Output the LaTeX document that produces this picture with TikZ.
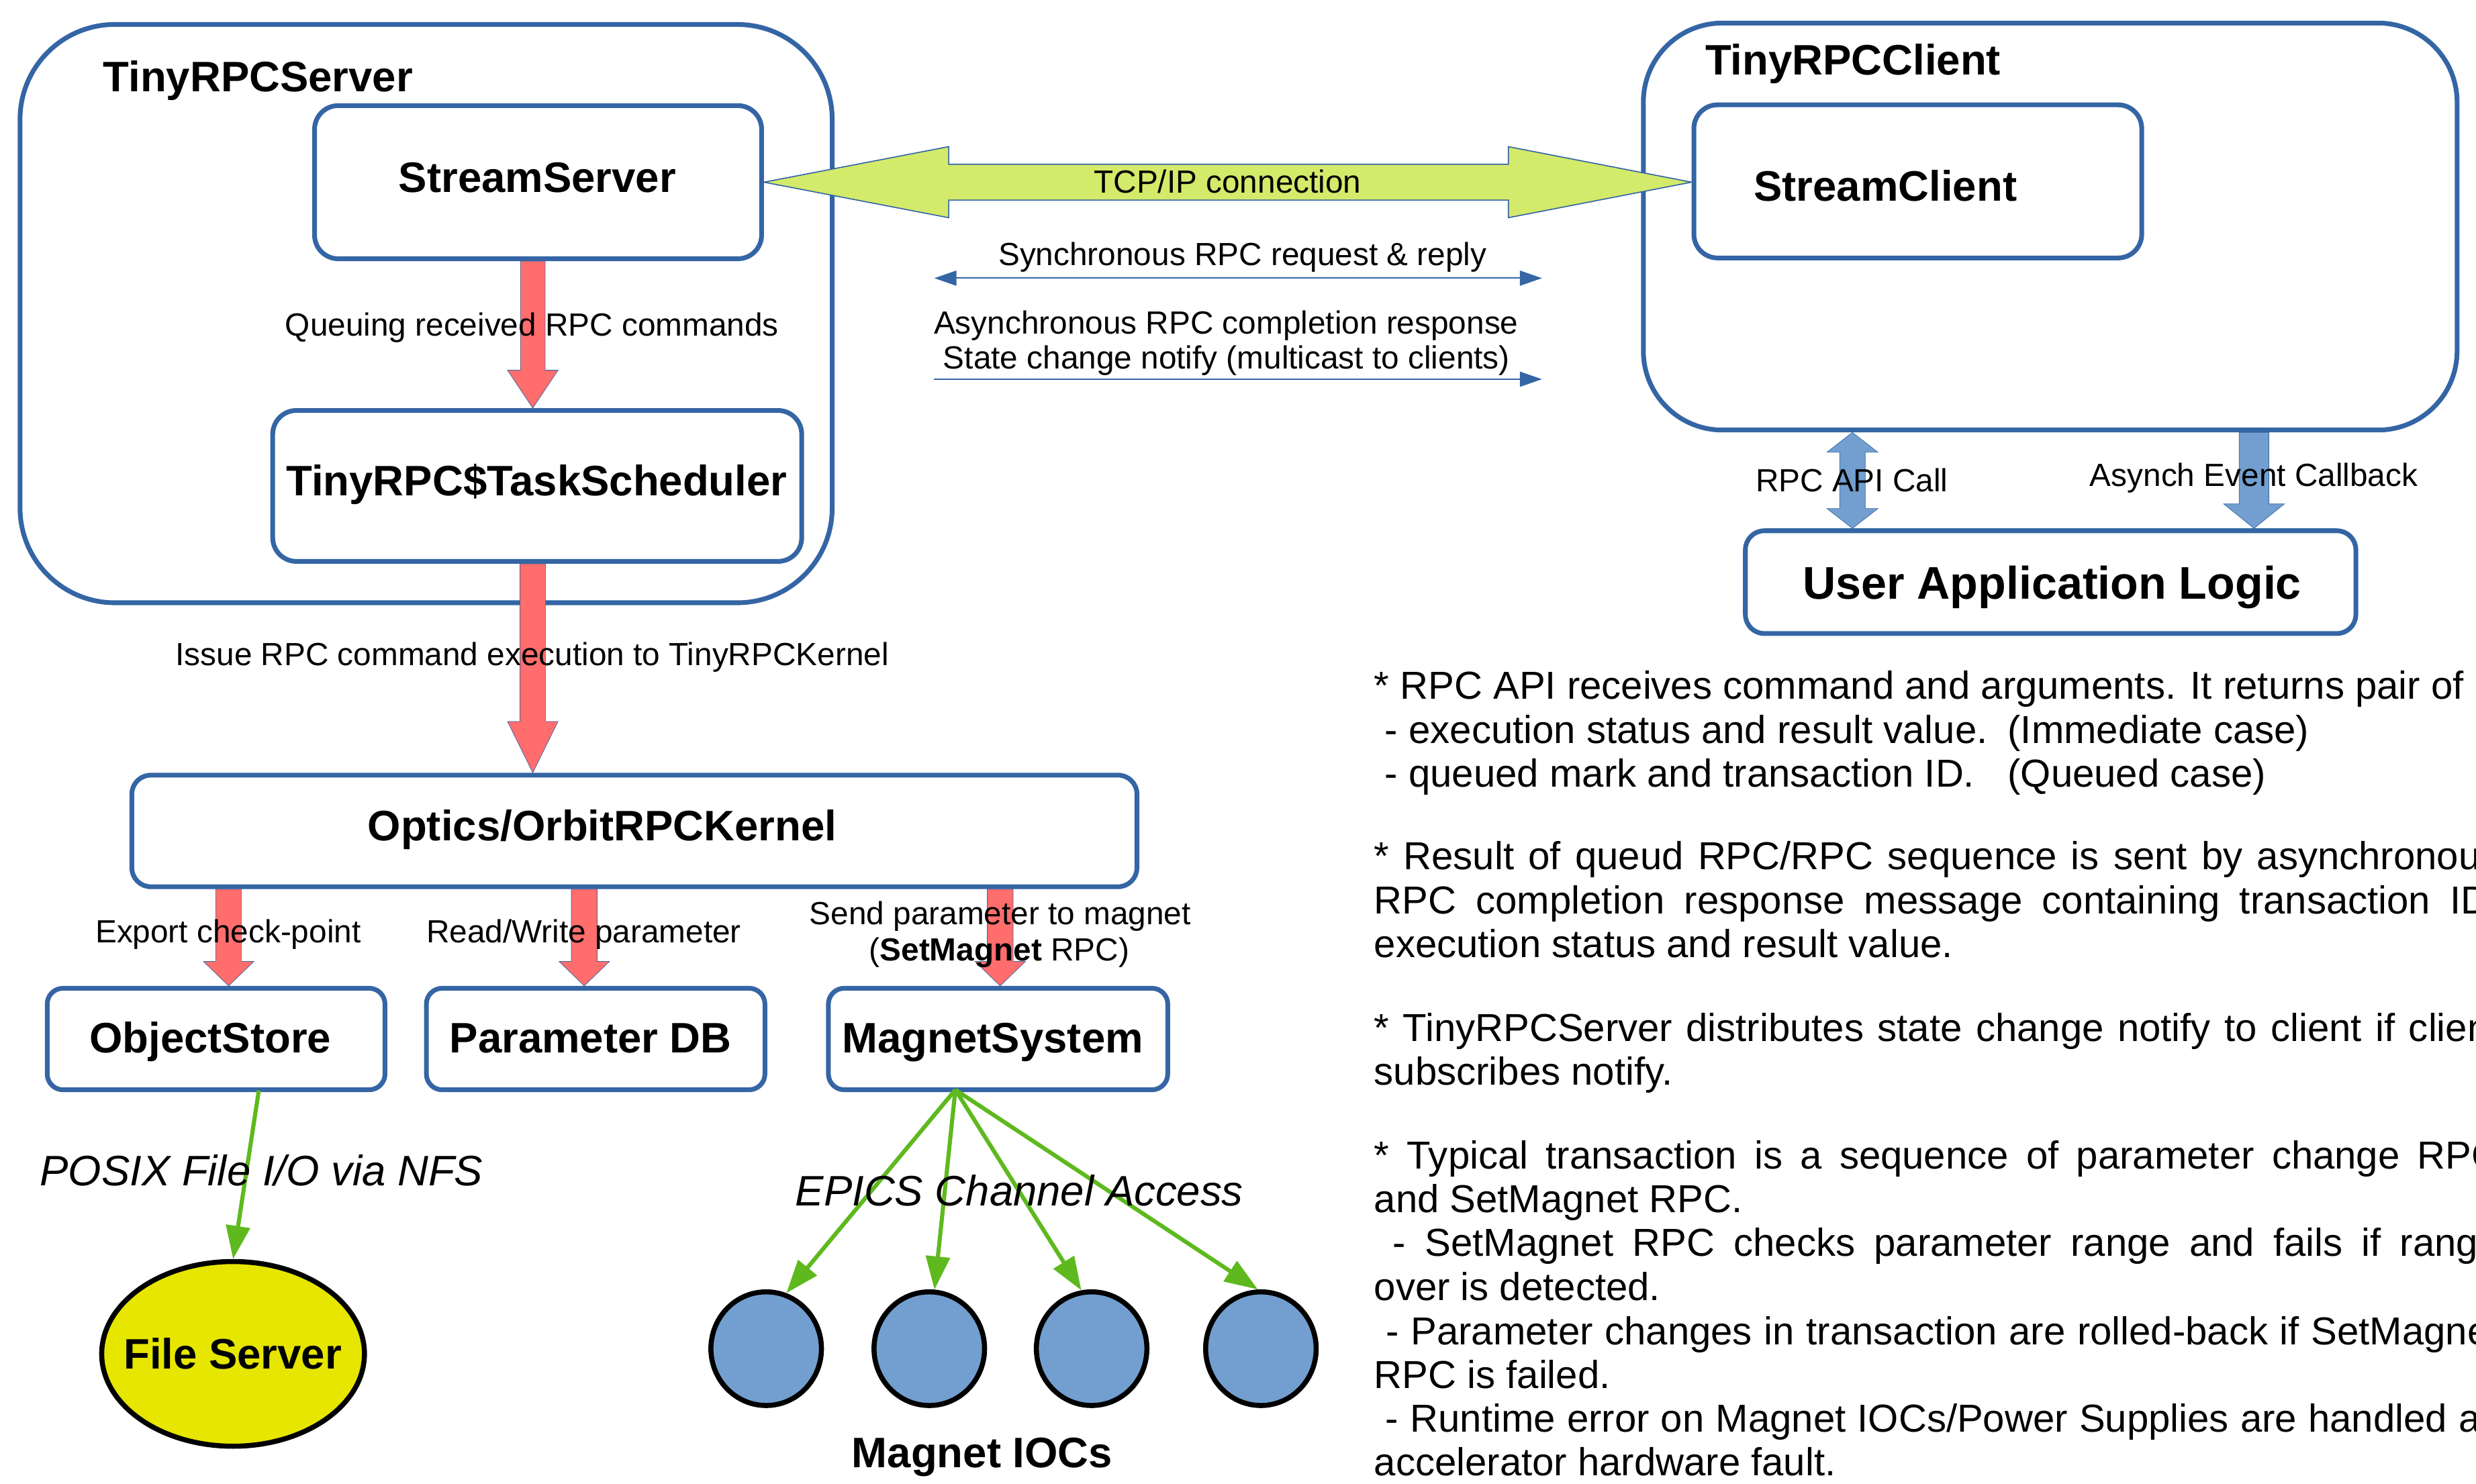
\documentclass[tikz,border=0pt]{standalone}
\usepackage{fontspec}
\setmainfont{Liberation Sans}
\usetikzlibrary{calc,arrows.meta,shapes.geometric}
\definecolor{boxblue}{HTML}{3465A4}
\definecolor{redarrow}{HTML}{FF6D6D}
\definecolor{limearrow}{HTML}{D4EA6B}
\definecolor{greenline}{HTML}{5EB91E}
\definecolor{iocblue}{HTML}{729FCF}
\definecolor{fsyellow}{HTML}{E6E600}
% single block arrow pointing down: style, from, to, shaft half, head half, head length
\newcommand{\vblock}[6]{%
\path[#1] let \p1=(#2), \p2=(#3) in
 (\x1-#4,\y1) -- (\x1+#4,\y1) -- (\x1+#4,\y2+#6) -- (\x1+#5,\y2+#6) -- (\x1,\y2)
 -- (\x1-#5,\y2+#6) -- (\x1-#4,\y2+#6) -- cycle;}
% double block arrow, vertical
\newcommand{\vdblock}[6]{%
\path[#1] let \p1=(#2), \p2=(#3) in
 (\x1,\y1) -- (\x1+#5,\y1-#6) -- (\x1+#4,\y1-#6) -- (\x1+#4,\y2+#6) -- (\x1+#5,\y2+#6)
 -- (\x1,\y2) -- (\x1-#5,\y2+#6) -- (\x1-#4,\y2+#6) -- (\x1-#4,\y1-#6) -- (\x1-#5,\y1-#6) -- cycle;}
\begin{document}
\begin{tikzpicture}[x=1pt,y=-1pt,
  box/.style={draw=boxblue, line width=3pt, rectangle, inner sep=0pt},
  lbl/.style={anchor=base, inner sep=0pt, font=\fontsize{20.3}{24}\selectfont},
  btxt/.style={anchor=base, inner sep=0pt, font=\fontsize{27}{32}\selectfont\bfseries},
  itxt/.style={anchor=base, inner sep=0pt, font=\fontsize{27}{32}\selectfont\itshape},
  note/.style={anchor=base west, inner sep=0pt, font=\fontsize{24.7}{28}\selectfont},
  redblk/.style={fill=redarrow, draw=boxblue, line width=0.3pt},
  blueblk/.style={fill=iocblue, draw=boxblue, line width=0.3pt},
  tcpblk/.style={fill=limearrow, draw=boxblue, line width=0.7pt},
  thinarr/.style={draw=boxblue, line width=0.8pt},
  gline/.style={draw=greenline, line width=2.6pt, -{Triangle[length=21pt,width=15pt]}},
  ioc/.style={ellipse, draw=black, line width=3.2pt, fill=iocblue, minimum width=70pt, minimum height=72pt, inner sep=0pt}
]
\fill[white] (0,0) rectangle (1568,940);
\useasboundingbox (0,0) rectangle (1568,940);

% ---------- boxes ----------
\node[box, rounded corners=60pt, minimum width=514.3pt, minimum height=366.3pt] (server) at (269.85,198.65) {};
\node[box, rounded corners=15pt, minimum width=283.1pt, minimum height=97pt] (ss) at (340.75,115.4) {};
\node[box, rounded corners=15pt, minimum width=335pt, minimum height=95.6pt] (ts) at (340.2,307.8) {};
\node[box, rounded corners=12pt, minimum width=636.5pt, minimum height=70.7pt] (kernel) at (401.75,526.35) {};
\node[box, rounded corners=10pt, minimum width=213.9pt, minimum height=64.3pt] (os) at (136.85,658.15) {};
\node[box, rounded corners=10pt, minimum width=214.4pt, minimum height=64.3pt] (pdb) at (377.2,658.15) {};
\node[box, rounded corners=10pt, minimum width=214.9pt, minimum height=64.3pt] (ms) at (632.05,658.15) {};
\node[box, rounded corners=50pt, minimum width=515.3pt, minimum height=257.8pt] (client) at (1298.35,143.5) {};
\node[box, rounded corners=15pt, minimum width=283.6pt, minimum height=97pt] (sc) at (1214.5,114.9) {};
\node[box, rounded corners=12pt, minimum width=386.6pt, minimum height=65.1pt] (ual) at (1298.6,368.75) {};

\node[ellipse, draw=black, line width=3.2pt, fill=fsyellow, minimum width=166.4pt, minimum height=117pt, inner sep=0pt] (fs) at (147.6,857.6) {};
\node[ioc] (ioc1) at (485.2,854.3) {};
\node[ioc] (ioc2) at (588.5,854.3) {};
\node[ioc] (ioc3) at (691.3,854.3) {};
\node[ioc] (ioc4) at (798.5,854.3) {};

% ---------- block arrows ----------
\coordinate (ax0) at (337.4,0);
\coordinate (ax1) at (144.8,0);
\coordinate (ax2) at (370,0);
\coordinate (ax3) at (633.4,0);
\vblock{redblk}{ss.south -| ax0}{ts.north -| ax0}{7.8pt}{16pt}{24pt}
\vblock{redblk}{ts.south -| ax0}{kernel.north -| ax0}{8.1pt}{16pt}{32.5pt}
\vblock{redblk}{kernel.south -| ax1}{os.north -| ax1}{8.2pt}{16pt}{15.5pt}
\vblock{redblk}{kernel.south -| ax2}{pdb.north -| ax2}{8.2pt}{16pt}{15.5pt}
\vblock{redblk}{kernel.south -| ax3}{ms.north -| ax3}{8.2pt}{16pt}{15.5pt}

\coordinate (bx1) at (1173.1,0);
\coordinate (bx2) at (1427.4,0);
\vdblock{blueblk}{client.south -| bx1}{ual.north -| bx1}{8.1pt}{16.2pt}{12.6pt}
\vblock{blueblk}{client.south -| bx2}{ual.north -| bx2}{9.4pt}{19.2pt}{15.5pt}

\path[tcpblk] let \p1=(ss.east), \p2=(sc.west) in
 (\x1,\y1) -- (\x1+117pt,\y1+22.5pt) -- (\x1+117pt,\y1+11.35pt) -- (\x2-116pt,\y1+11.35pt)
 -- (\x2-116pt,\y1+22.5pt) -- (\x2,\y1) -- (\x2-116pt,\y1-22.5pt) -- (\x2-116pt,\y1-11.35pt)
 -- (\x1+117pt,\y1-11.35pt) -- (\x1+117pt,\y1-22.5pt) -- cycle;

% ---------- thin arrows ----------
\coordinate (sync1) at (591.7,176.2);
\coordinate (sync2) at (976.5,176.2);
\coordinate (async1) at (591.4,240.2);
\coordinate (async2) at (976.5,240.2);
\draw[thinarr, {Triangle[length=14pt,width=9.5pt]}-{Triangle[length=14pt,width=9.5pt]}] (sync1) -- (sync2);
\draw[thinarr, -{Triangle[length=14pt,width=9.5pt]}] (async1) -- (async2);

% ---------- green arrows ----------
\coordinate (osout) at (163.9,690.7);
\coordinate (msout) at (605,690.3);
\draw[gline] (osout) -- (fs.north);
\draw[gline] (msout) -- (ioc1.70);
\draw[gline] (msout) -- (ioc2.85);
\draw[gline] (msout) -- (ioc3.100);
\draw[gline] (msout) -- (ioc4.93);

% ---------- texts ----------
\node[btxt, anchor=base west] (serverT) at (65.2,57.9) {TinyRPCServer};
\node[btxt] (ssT) at (340.3,121.8) {StreamServer};
\node[btxt] (tsT) at (339.9,313.9) {TinyRPC\$TaskScheduler};
\node[lbl] (qT) at (336.9,212.6) {Queuing received RPC commands};
\node[lbl] (iT) at (337,421.6) {Issue RPC command execution to TinyRPCKernel};
\node[btxt] (kT) at (381.4,532.5) {Optics/OrbitRPCKernel};
\node[lbl] (eT) at (144.5,597.2) {Export check-point};
\node[lbl] (rT) at (369.7,597.2) {Read/Write parameter};
\node[lbl] (sT1) at (633.4,585.8) {Send parameter to magnet};
\node[lbl] (sT2) at (632.8,608.7) {(\textbf{SetMagnet} RPC)};
\node[btxt] (osT) at (133.2,667) {ObjectStore};
\node[btxt] (pdbT) at (374,667) {Parameter DB};
\node[btxt] (msT) at (628.7,667) {MagnetSystem};
\node[itxt] (posixT) at (165.5,750.9) {POSIX File I/O via NFS};
\node[btxt] (fsT) at (147.4,867) {File Server};
\node[itxt] (epicsT) at (645.5,763.6) {EPICS Channel Access};
\node[btxt] (iocT) at (622,929.6) {Magnet IOCs};

\node[lbl] (tcpT) at (777.4,122.2) {TCP/IP connection};
\node[lbl] (syncT) at (786.9,168) {Synchronous RPC request \& reply};
\node[lbl] (asyncT1) at (776.5,211.6) {Asynchronous RPC completion response};
\node[lbl] (asyncT2) at (776.7,233.8) {State change notify (multicast to clients)};

\node[btxt, anchor=base west] (clientT) at (1079.8,47.3) {TinyRPCClient};
\node[btxt, anchor=base west] (scT) at (1110.5,127.5) {StreamClient};
\node[lbl] (apiT) at (1172.7,311.4) {RPC API Call};
\node[lbl] (cbT) at (1427.3,308.2) {Asynch Event Callback};
\node[anchor=base, inner sep=0pt, font=\fontsize{29}{34}\selectfont\bfseries] (ualT) at (1299.5,379.5) {User Application Logic};

% ---------- notes ----------
\node[note] (n1) at (870,442.9) {* RPC API receives command and arguments. It returns pair of};
\node[note] (n2) at (870,470.9) {\makebox[401.3pt][l]{\ - execution status and result value.}(Immediate case)};
\node[note] (n3) at (870,498.6) {\makebox[401.3pt][l]{\ - queued mark and transaction ID.}(Queued case)};
\node[note] (n4) at (870,551) {\hbox to 713pt{* Result of queud RPC/RPC sequence is sent by asynchronous}};
\node[note] (n5) at (870,579) {\hbox to 713pt{RPC completion response message containing transaction ID,}};
\node[note] (n6) at (870,606.6) {execution status and result value.};
\node[note] (n7) at (870,659.7) {\hbox to 713pt{* TinyRPCServer distributes state change notify to client if client}};
\node[note] (n8) at (870,687.4) {subscribes notify.};
\node[note] (n9) at (870,740.5) {\hbox to 713pt{* Typical transaction is a sequence of parameter change RPC}};
\node[note] (n10) at (870,768.1) {and SetMagnet RPC.};
\node[note] (n11) at (870,795.8) {\hbox to 713pt{\ - SetMagnet RPC checks parameter range and fails if range}};
\node[note] (n12) at (870,823.8) {over is detected.};
\node[note] (n13) at (870,851.7) {\hbox to 713pt{\ - Parameter changes in transaction are rolled-back if SetMagnet}};
\node[note] (n14) at (870,879.4) {RPC is failed.};
\node[note] (n15) at (870,907) {\hbox to 713pt{\ - Runtime error on Magnet IOCs/Power Supplies are handled as}};
\node[note] (n16) at (870,934.6) {accelerator hardware fault.};
\end{tikzpicture}
\end{document}
